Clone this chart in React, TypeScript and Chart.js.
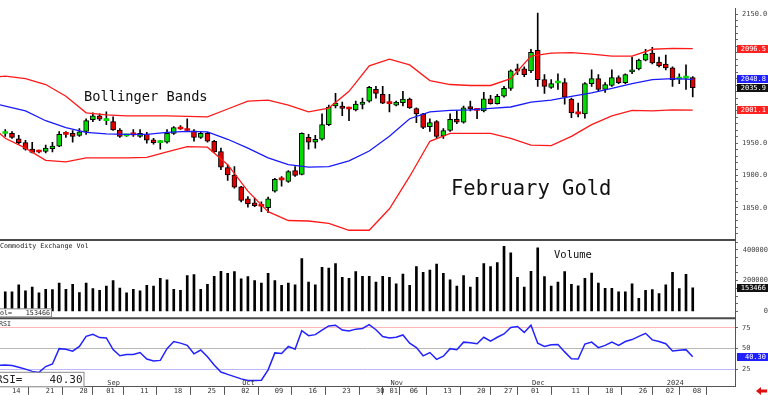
import React, { useEffect, useRef } from 'react';
import { Chart, registerables } from 'chart.js';

Chart.register(...registerables);

// ---------- DATA ----------
// trading-day index 0 = Aug 11 2023 ... 102 = Jan 08 2024
const openP = [
  1965.0, 1965.2, 1956.8, 1950.8, 1940.9, 1937.1, 1937.1, 1941.7, 1945.5, 1964.4,
  1965.2, 1962.1, 1968.2, 1986.4, 1992.5, 1984.9, 1983.4, 1970.5, 1961.3, 1963.7,
  1960.6, 1963.7, 1955.3, 1950.8, 1951.5, 1965.2, 1972.7, 1970.5, 1969.0, 1959.1,
  1965.2, 1953.1, 1937.1, 1912.2, 1900.8, 1882.6, 1863.7, 1857.6, 1853.1, 1850.0,
  1875.8, 1894.0, 1891.0, 1907.6, 1901.5, 1959.1, 1951.5, 1956.1, 1978.8, 2007.6,
  2007.6, 2003.8, 2001.5, 2009.9, 2015.2, 2033.4, 2025.8, 2012.1, 2009.1, 2012.9,
  2018.2, 2003.8, 1995.5, 1975.8, 1983.4, 1961.3, 1969.7, 1987.1, 1982.6, 2006.8,
  2001.5, 2000.0, 2018.9, 2011.4, 2022.7, 2034.9, 2065.2, 2065.2, 2062.1, 2093.9,
  2048.5, 2036.4, 2043.2, 2043.9, 2018.2, 1996.2, 1995.5, 2042.4, 2050.0, 2033.4,
  2039.4, 2051.5, 2043.9, 2060.6, 2065.2, 2078.8, 2089.4, 2075.8, 2072.7, 2066.7,
  2049.2, 2050.8, 2051.5,
];
const highP = [
  1971.2, 1968.2, 1962.1, 1954.6, 1951.5, 1939.4, 1947.0, 1951.5, 1968.2, 1968.2,
  1969.7, 1972.7, 1987.9, 1997.0, 1995.5, 1998.5, 1990.9, 1972.7, 1963.7, 1971.2,
  1971.2, 1966.7, 1957.6, 1954.6, 1971.2, 1975.8, 1977.3, 1987.9, 1971.2, 1968.2,
  1966.7, 1954.6, 1942.4, 1916.7, 1913.7, 1883.4, 1867.5, 1865.2, 1859.1, 1866.7,
  1895.5, 1898.5, 1907.6, 1913.7, 1965.9, 1963.7, 1962.1, 1995.5, 2009.1, 2027.3,
  2013.7, 2006.1, 2015.2, 2019.7, 2037.9, 2037.9, 2037.9, 2025.8, 2015.2, 2030.3,
  2019.7, 2004.6, 1996.2, 1987.9, 1984.9, 1972.7, 1995.5, 2000.0, 2007.6, 2015.2,
  2003.0, 2028.8, 2024.3, 2025.8, 2037.9, 2063.6, 2072.7, 2068.2, 2095.5, 2151.5,
  2056.1, 2048.5, 2057.6, 2050.0, 2019.7, 2012.1, 2043.9, 2063.6, 2056.1, 2043.9,
  2063.6, 2054.5, 2057.6, 2083.3, 2080.3, 2095.5, 2098.5, 2083.3, 2086.4, 2068.2,
  2057.6, 2071.2, 2053.0,
];
const lowP = [
  1960.6, 1957.6, 1948.5, 1939.4, 1934.9, 1934.9, 1934.9, 1936.4, 1944.7, 1959.1,
  1951.5, 1960.6, 1963.7, 1983.4, 1984.9, 1978.8, 1969.7, 1959.1, 1960.6, 1960.6,
  1959.1, 1950.0, 1948.5, 1940.9, 1950.0, 1963.7, 1971.2, 1968.2, 1953.1, 1957.6,
  1951.5, 1935.6, 1909.1, 1892.5, 1880.4, 1859.1, 1850.8, 1851.6, 1844.0, 1842.5,
  1874.3, 1883.4, 1889.4, 1898.5, 1900.8, 1940.9, 1942.4, 1954.6, 1977.3, 2004.6,
  1992.5, 1984.9, 2000.0, 2003.0, 2013.7, 2019.7, 2011.4, 1998.5, 2007.6, 2007.6,
  2003.8, 1981.9, 1972.7, 1968.2, 1957.6, 1957.6, 1968.2, 1980.4, 1981.1, 2000.0,
  1987.9, 1998.5, 2010.6, 2010.6, 2021.2, 2031.8, 2056.1, 2053.0, 2059.1, 2037.9,
  2027.3, 2034.9, 2033.4, 2010.6, 1989.4, 1990.9, 1988.9, 2037.9, 2030.3, 2028.8,
  2037.9, 2042.4, 2042.4, 2057.6, 2063.6, 2077.3, 2072.7, 2068.2, 2063.6, 2037.9,
  2042.4, 2033.4, 2021.8,
];
const closeP = [
  1965.4, 1959.1, 1950.8, 1940.9, 1935.6, 1936.4, 1942.4, 1945.5, 1963.7, 1963.7,
  1960.6, 1967.5, 1984.9, 1992.5, 1987.1, 1985.6, 1970.5, 1960.6, 1962.1, 1962.9,
  1965.2, 1954.6, 1950.8, 1951.5, 1965.2, 1974.3, 1972.0, 1969.7, 1959.1, 1965.2,
  1953.1, 1936.4, 1912.9, 1900.8, 1881.9, 1861.4, 1856.1, 1853.1, 1852.3, 1863.7,
  1894.0, 1893.2, 1906.1, 1900.0, 1965.2, 1951.5, 1956.1, 1978.8, 2006.1, 2012.1,
  2003.8, 2003.0, 2010.6, 2013.7, 2036.4, 2027.3, 2012.1, 2011.4, 2013.7, 2018.2,
  2004.6, 1995.5, 1974.3, 1981.9, 1960.6, 1969.7, 1987.1, 1982.6, 2004.6, 2003.0,
  2000.8, 2018.9, 2011.4, 2022.7, 2034.9, 2062.1, 2061.4, 2056.1, 2090.9, 2048.5,
  2037.9, 2042.4, 2043.9, 2021.2, 1997.0, 1995.5, 2042.4, 2050.0, 2033.4, 2040.9,
  2051.5, 2043.9, 2056.1, 2063.6, 2078.8, 2087.9, 2074.2, 2069.7, 2066.7, 2048.5,
  2050.0, 2051.5, 2035.9,
];
const volume = [
  127000, 127000, 173500, 133300, 158700, 120600, 143900, 141800, 184100, 143900,
  175600, 122700, 184100, 148100, 137600, 165100, 201100, 152400, 120600, 143900,
  133300, 169300, 165100, 215900, 205300, 143900, 137600, 232800, 239100, 143900,
  175600, 228600, 260300, 247600, 258200, 211600, 226500, 201100, 184100, 247600,
  201100, 169300, 184100, 173500, 342800, 190500, 173500, 285700, 281500, 311100,
  222200, 215900, 258200, 228600, 228600, 190500, 228600, 222200, 179900, 243400,
  169300, 292100, 254000, 268800, 306900, 247600, 205300, 165100, 232800, 158700,
  222200, 311100, 292100, 317500, 423300, 380900, 222200, 158700, 260300, 412700,
  226500, 165100, 190500, 258200, 175600, 167200, 215900, 249700, 184100, 150300,
  150300, 127000, 127000, 179900, 84700, 137600, 141800, 116400, 173500, 254000,
  148100, 241300, 153466,
];
// RSI starts one session before the first candle (index -1)
const rsiFirstIdx = -1;
const rsi = [
  29.8,
  30.5, 29.7, 27.7, 25.4, 22.7, 21.5, 28.5, 31.6, 50.0, 49.2,
  46.9, 52.7, 64.8, 67.2, 63.3, 62.9, 48.8, 41.4, 43.0, 43.0,
  45.3, 37.5, 35.2, 35.9, 50.0, 58.6, 56.6, 53.9, 43.8, 48.4,
  40.2, 30.5, 21.9, 19.1, 16.4, 13.7, 11.7, 11.7, 12.1, 24.6,
  44.9, 44.1, 52.7, 49.2, 71.5, 65.6, 66.8, 72.3, 77.3, 78.1,
  72.3, 71.1, 73.4, 74.2, 78.9, 72.7, 64.5, 62.9, 63.7, 66.4,
  56.6, 51.2, 41.4, 45.3, 37.1, 41.0, 50.0, 48.8, 57.8, 57.0,
  55.9, 63.7, 59.0, 63.7, 67.6, 75.4, 76.6, 69.5, 78.1, 56.6,
  52.7, 54.7, 55.1, 46.1, 37.9, 37.5, 55.5, 57.8, 51.2, 53.9,
  57.8, 53.9, 58.6, 60.9, 64.8, 68.4, 60.5, 58.6, 55.9, 47.3,
  48.0, 48.8, 40.3,
];
// Bollinger band vertices read every third session
const bandIdx = [-1, 0, 3, 6, 9, 12, 15, 18, 21, 24, 27, 30, 33, 36, 39, 42, 45, 48, 51, 54, 57, 60, 63, 66, 69, 72, 75, 78, 81, 84, 87, 90, 93, 96, 99, 102];
const bandUpper = [2053.0, 2053.8, 2050.0, 2040.9, 2022.7, 1997.0, 1994.0, 1992.4, 1992.4, 1992.4, 1991.7, 1990.9, 2003.0, 2015.2, 2016.7, 2009.1, 1998.5, 2004.5, 2030.3, 2069.7, 2080.3, 2071.2, 2047.0, 2040.9, 2039.4, 2039.4, 2050.0, 2084.8, 2089.4, 2090.2, 2087.9, 2084.8, 2084.8, 2095.5, 2097.0, 2096.5];
const bandMiddle = [2009.8, 2007.6, 2000.0, 1984.8, 1974.2, 1966.7, 1964.4, 1963.6, 1963.6, 1966.7, 1968.2, 1967.4, 1956.1, 1942.4, 1927.3, 1916.7, 1912.9, 1913.6, 1922.7, 1937.9, 1960.6, 1987.9, 1998.5, 2000.8, 2001.5, 2003.8, 2006.1, 2013.6, 2016.7, 2022.7, 2028.0, 2034.8, 2042.4, 2048.5, 2050.0, 2048.8];
const bandLower = [1966.7, 1957.6, 1942.4, 1923.5, 1921.2, 1927.3, 1927.3, 1927.3, 1928.0, 1936.4, 1944.7, 1943.9, 1916.7, 1875.8, 1843.9, 1830.3, 1829.5, 1825.8, 1815.2, 1815.2, 1848.5, 1898.5, 1953.0, 1965.2, 1965.2, 1965.2, 1957.6, 1947.0, 1946.2, 1960.6, 1978.8, 1992.4, 2000.8, 2000.0, 2001.5, 2001.1];

const dayTickIdx = [1, 6, 11, 15, 20, 25, 30, 35, 40, 45, 50, 55, 57, 60, 65, 70, 74, 78, 84, 89, 94, 98, 102];
const dayTickText = ['14', '21', '28', '01', '11', '18', '25', '02', '09', '16', '23', '30', '01', '06', '13', '20', '27', '01', '11', '18', '26', '02', '08'];
const monthTickIdx = [15, 35, 57, 78, 98];
const monthTickText = ['Sep', 'Oct', 'Nov', 'Dec', '2024'];
const priceLabelTicks = [1850, 1900, 1950, 2150];
const volLabelTicks = [0, 200000, 400000];
const rsiTicks = [25, 50, 75];

// ---------- STYLE ----------
const MONO = "'DejaVu Sans Mono', monospace";
const UP = '#00dc00';
const DOWN = '#e00000';

const overlayPlugin = {
  id: 'overlay',
  afterDraw(chart: any) {
    const { ctx, chartArea } = chart;
    const xS = chart.scales.x;
    const yP = chart.scales.yP;
    const yV = chart.scales.yV;
    const yR = chart.scales.yR;
    const W = chart.width;
    ctx.save();

    // panel separators
    ctx.strokeStyle = '#4a4a4a';
    ctx.lineWidth = 2;
    for (const y of [yV.top, yR.top]) {
      ctx.beginPath();
      ctx.moveTo(0, y);
      ctx.lineTo(chartArea.right + 1, y);
      ctx.stroke();
    }

    // last-value boxes on the right axis
    const last = closeP.length - 1;
    const boxes: [any, number, string, string][] = [
      [yP, bandUpper[bandUpper.length - 1], bandUpper[bandUpper.length - 1].toFixed(1), '#ff2020'],
      [yP, bandMiddle[bandMiddle.length - 1], bandMiddle[bandMiddle.length - 1].toFixed(1), '#2020ff'],
      [yP, closeP[last], closeP[last].toFixed(1), '#111111'],
      [yP, bandLower[bandLower.length - 1], bandLower[bandLower.length - 1].toFixed(1), '#ff2020'],
      [yV, volume[last], String(volume[last]), '#111111'],
      [yR, rsi[rsi.length - 1], rsi[rsi.length - 1].toFixed(2), '#2020ff'],
    ];
    ctx.font = `7px ${MONO}`;
    ctx.textBaseline = 'middle';
    ctx.textAlign = 'right';
    for (const [scale, v, txt, col] of boxes) {
      const y = scale.getPixelForValue(v);
      ctx.fillStyle = col;
      ctx.fillRect(chartArea.right + 2, Math.round(y) - 4, W - chartArea.right - 2, 8);
      ctx.fillStyle = '#ffffff';
      ctx.fillText(txt, W - 2, Math.round(y) + 0.5);
    }

    // month labels
    ctx.fillStyle = '#333';
    ctx.textAlign = 'left';
    ctx.font = `7px ${MONO}`;
    monthTickIdx.forEach((idx, k) => {
      ctx.fillText(monthTickText[k], xS.getPixelForValue(idx) + 1, yR.bottom - 3.5);
    });

    // annotations
    ctx.fillStyle = '#111';
    ctx.textBaseline = 'alphabetic';
    ctx.font = `13.7px ${MONO}`;
    ctx.fillText('Bollinger Bands', 84, 100.5);
    ctx.font = `20.5px ${MONO}`;
    ctx.fillText('February Gold', 451, 195);
    ctx.font = `10.5px ${MONO}`;
    ctx.fillText('Volume', 554, 258);
    ctx.font = `6.7px ${MONO}`;
    ctx.fillStyle = '#222';
    ctx.fillText('Commodity Exchange Vol', 0, yV.top + 7.5);
    ctx.fillText('RSI', -1, yR.top + 7.5);

    // Vol= box
    ctx.fillStyle = '#fff';
    ctx.fillRect(-1, yV.bottom - 9.5, 53, 8);
    ctx.strokeStyle = '#8a8a8a';
    ctx.lineWidth = 1;
    ctx.strokeRect(-1.5, yV.bottom - 9.5, 53, 8);
    ctx.fillStyle = '#222';
    ctx.textBaseline = 'middle';
    ctx.font = `6.7px ${MONO}`;
    ctx.textAlign = 'left';
    ctx.fillText('Vol=', -4, yV.bottom - 5.5);
    ctx.textAlign = 'right';
    ctx.fillText(String(volume[last]), 50, yV.bottom - 5.5);

    // RSI= box
    ctx.fillStyle = '#fff';
    ctx.fillRect(-1, yR.bottom - 14, 85, 14);
    ctx.strokeStyle = '#8a8a8a';
    ctx.strokeRect(-1.5, yR.bottom - 14.5, 85.5, 14.5);
    ctx.fillStyle = '#222';
    ctx.font = `11px ${MONO}`;
    ctx.textAlign = 'left';
    ctx.fillText('RSI=', -4, yR.bottom - 7);
    ctx.textAlign = 'right';
    ctx.fillText(rsi[rsi.length - 1].toFixed(2), 82.5, yR.bottom - 7);

    // red arrow (bottom right)
    ctx.fillStyle = '#e01010';
    ctx.beginPath();
    ctx.moveTo(756, 391);
    ctx.lineTo(761, 387);
    ctx.lineTo(761, 389.5);
    ctx.lineTo(767, 389.5);
    ctx.lineTo(767, 392.5);
    ctx.lineTo(761, 392.5);
    ctx.lineTo(761, 395);
    ctx.closePath();
    ctx.fill();

    ctx.restore();
  },
};

export default function App() {
  const ref = useRef<HTMLCanvasElement | null>(null);

  useEffect(() => {
    if (!ref.current) return;
    const idx = closeP.map((_, i) => i);
    const isDoji = (i: number) => Math.abs(closeP[i] - openP[i]) < 1.0;

    const chart = new Chart(ref.current, {
      type: 'bar',
      data: {
        datasets: [
          {
            type: 'line',
            label: 'Upper',
            yAxisID: 'yP',
            data: bandIdx.map((x, k) => ({ x, y: bandUpper[k] })),
            borderColor: '#ff1a1a',
            borderWidth: 1.3,
            pointRadius: 0,
            tension: 0,
            order: 0,
          },
          {
            type: 'line',
            label: 'Middle',
            yAxisID: 'yP',
            data: bandIdx.map((x, k) => ({ x, y: bandMiddle[k] })),
            borderColor: '#1a1aff',
            borderWidth: 1.3,
            pointRadius: 0,
            tension: 0,
            order: 0,
          },
          {
            type: 'line',
            label: 'Lower',
            yAxisID: 'yP',
            data: bandIdx.map((x, k) => ({ x, y: bandLower[k] })),
            borderColor: '#ff1a1a',
            borderWidth: 1.3,
            pointRadius: 0,
            tension: 0,
            order: 0,
          },
          {
            type: 'bar',
            label: 'Body',
            yAxisID: 'yP',
            data: idx.map((i) => ({ x: i, y: [Math.min(openP[i], closeP[i]), Math.max(openP[i], closeP[i])] })),
            backgroundColor: idx.map((i) => (closeP[i] >= openP[i] ? UP : DOWN)),
            borderColor: '#000',
            borderWidth: idx.map((i) => (isDoji(i) ? 0 : 1)),
            borderSkipped: false,
            minBarLength: 2,
            barThickness: 5,
            grouped: false,
            order: 1,
          } as any,
          {
            type: 'bar',
            label: 'Wick',
            yAxisID: 'yP',
            data: idx.map((i) => ({ x: i, y: [lowP[i], highP[i]] })),
            backgroundColor: '#000',
            borderWidth: 0,
            barThickness: 1,
            grouped: false,
            order: 2,
          } as any,
          {
            type: 'bar',
            label: 'Volume',
            yAxisID: 'yV',
            data: idx.map((i) => ({ x: i, y: volume[i] })),
            backgroundColor: '#000',
            borderWidth: 0,
            barThickness: 2,
            grouped: false,
            order: 3,
          } as any,
          {
            type: 'line',
            label: 'RSI',
            yAxisID: 'yR',
            data: rsi.map((v, k) => ({ x: k + rsiFirstIdx, y: v })),
            borderColor: '#2222ff',
            borderWidth: 1.5,
            pointRadius: 0,
            tension: 0,
            order: 0,
          },
        ],
      },
      options: {
        animation: false,
        responsive: false,
        devicePixelRatio: 1,
        events: [],
        layout: { padding: 0 },
        plugins: { legend: { display: false }, tooltip: { enabled: false } },
        scales: {
          x: {
            type: 'linear',
            min: -0.78,
            max: 108.27,
            offset: false,
            position: 'bottom',
            afterFit: (s: any) => { s.height = 8; },
            afterBuildTicks: (s: any) => { s.ticks = dayTickIdx.map((v) => ({ value: v })); },
            ticks: {
              autoSkip: false,
              maxRotation: 0,
              minRotation: 0,
              align: 'start',
              padding: -8,
              color: '#333',
              font: { family: MONO, size: 7 },
              callback: (v: any) => dayTickText[dayTickIdx.indexOf(v)] ?? '',
            },
            grid: { drawOnChartArea: false, drawTicks: true, tickLength: 8, color: '#555' },
            border: { display: true, color: '#555' },
          },
          yP: {
            type: 'linear',
            position: 'right',
            stack: 'panels',
            stackWeight: 237,
            min: 1800,
            max: 2159.1,
            afterFit: (s: any) => { s.width = 33; },
            afterBuildTicks: (s: any) => {
              const t: any[] = [];
              for (let v = 1810; v <= 2150; v += 10) t.push({ value: v });
              s.ticks = t;
            },
            ticks: {
              autoSkip: false,
              padding: 4,
              color: '#444',
              font: { family: MONO, size: 7 },
              callback: (v: any) => (priceLabelTicks.includes(v) ? Number(v).toFixed(1) : ''),
            },
            grid: { drawOnChartArea: false, drawTicks: true, tickLength: 3, color: '#666' },
            border: { display: true, color: '#555' },
          },
          yV: {
            type: 'linear',
            position: 'right',
            stack: 'panels',
            stackWeight: 80,
            min: -44400,
            max: 463500,
            afterFit: (s: any) => { s.width = 33; },
            afterBuildTicks: (s: any) => {
              const t: any[] = [];
              for (let v = 0; v <= 450000; v += 50000) t.push({ value: v });
              s.ticks = t;
            },
            ticks: {
              autoSkip: false,
              padding: 4,
              crossAlign: 'far',
              color: '#444',
              font: { family: MONO, size: 7 },
              callback: (v: any) => (volLabelTicks.includes(v) ? String(v) : ''),
            },
            grid: { drawOnChartArea: false, drawTicks: true, tickLength: 3, color: '#666' },
            border: { display: true, color: '#555' },
          },
          yR: {
            type: 'linear',
            position: 'right',
            stack: 'panels',
            stackWeight: 70,
            min: 4.2,
            max: 86.4,
            afterFit: (s: any) => { s.width = 33; },
            afterBuildTicks: (s: any) => { s.ticks = rsiTicks.map((v) => ({ value: v })); },
            ticks: {
              autoSkip: false,
              padding: 4,
              color: '#444',
              font: { family: MONO, size: 7 },
              callback: (v: any) => String(v),
            },
            grid: {
              drawOnChartArea: true,
              drawTicks: true,
              tickLength: 3,
              tickColor: '#666',
              color: (c: any) =>
                c.tick && c.tick.value === 75 ? '#ffb8b8' : c.tick && c.tick.value === 50 ? '#b8b8b8' : '#b8b8ff',
            },
            border: { display: true, color: '#555' },
          },
        },
      } as any,
      plugins: [overlayPlugin],
    });
    return () => chart.destroy();
  }, []);

  return (
    <div style={{ position: 'fixed', left: 0, top: 0, width: 768, height: 395, background: '#fff' }}>
      <canvas ref={ref} width={768} height={395} style={{ display: 'block' }} />
    </div>
  );
}
